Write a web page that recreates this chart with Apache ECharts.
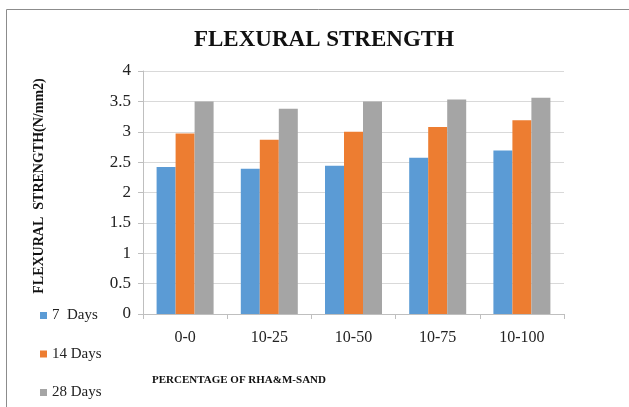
<!DOCTYPE html>
<html>
<head>
<meta charset="utf-8">
<style>html,body{margin:0;padding:0;background:#fff}#c{width:629px;height:407px}</style>
<script src="https://cdn.jsdelivr.net/npm/echarts@6/dist/echarts.min.js"></script>
</head>
<body>
<div id="c"></div>
<script>
var categories = ['0-0', '10-25', '10-50', '10-75', '10-100'];
var days7 = [2.42, 2.39, 2.44, 2.57, 2.69];
var days14 = [2.97, 2.87, 3.00, 3.08, 3.19];
var days28 = [3.50, 3.38, 3.50, 3.53, 3.56];
var seriesNames = ['7  Days', '14 Days', '28 Days'];
var yTicks = { min: 0, max: 4, interval: 0.5 };

var serif = '"Liberation Serif", "DejaVu Serif", serif';
var chart = echarts.init(document.getElementById('c'));
chart.setOption({
  animation: false,
  color: ['#5b9bd5', '#ed7d31', '#a5a5a5'],
  title: {
    text: 'FLEXURAL STRENGTH',
    left: 319, top: 24, textAlign: 'center',
    textStyle: { fontFamily: serif, fontWeight: 'bold', fontSize: 23, color: '#111' }
  },
  grid: { left: 143, right: 65, top: 71, bottom: 93 },
  legend: {
    orient: 'vertical', left: 40, top: 308, padding: 0,
    itemWidth: 7, itemHeight: 7, itemGap: 23.5, icon: 'rect',
    textStyle: { fontFamily: serif, fontSize: 15, color: '#222', padding: [0, 0, 0, 0] },
    data: seriesNames
  },
  xAxis: {
    type: 'category', data: categories,
    axisLine: { lineStyle: { color: '#bfbfbf' } },
    axisTick: { show: true, length: 5, lineStyle: { color: '#bfbfbf' } },
    axisLabel: { fontFamily: serif, fontSize: 16, color: '#222', margin: 16 }
  },
  yAxis: {
    type: 'value', min: yTicks.min, max: yTicks.max, interval: yTicks.interval,
    axisLine: { show: true, lineStyle: { color: '#bfbfbf' } },
    axisTick: { show: true, length: 5, lineStyle: { color: '#bfbfbf' } },
    splitLine: { lineStyle: { color: '#d9d9d9' } },
    axisLabel: { fontFamily: serif, fontSize: 17, color: '#222', margin: 12 }
  },
  graphic: [
    { type: 'rect', shape: { x: 6.5, y: 9.5, width: 700, height: 500 }, style: { fill: 'none', stroke: '#8c8c8c', lineWidth: 1 }, silent: true },
    { type: 'text', x: 39, y: 186, rotation: Math.PI / 2,
      style: { text: 'FLEXURAL  STRENGTH(N/mm2)', font: 'bold 14px ' + serif, fill: '#111', textAlign: 'center', textVerticalAlign: 'middle' } },
    { type: 'text', left: 152, top: 375, style: { text: 'PERCENTAGE OF RHA&M-SAND', font: 'bold 11px ' + serif, fill: '#111' } }
  ],
  series: [
    { name: seriesNames[0], type: 'bar', data: days7, barWidth: 19, barGap: '0%' },
    { name: seriesNames[1], type: 'bar', data: days14, barWidth: 19, barGap: '0%' },
    { name: seriesNames[2], type: 'bar', data: days28, barWidth: 19, barGap: '0%' }
  ]
});
</script>
</body>
</html>
